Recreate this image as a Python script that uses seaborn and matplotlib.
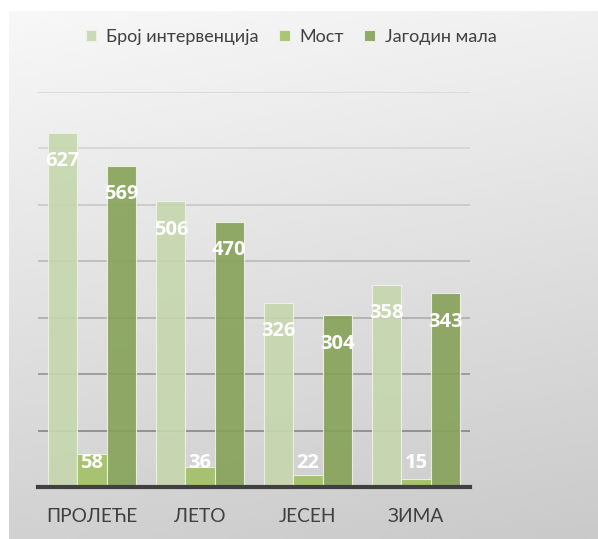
import numpy as np
import pandas as pd
import matplotlib
matplotlib.use('Agg')
import matplotlib.pyplot as plt
import seaborn as sns

# --- Data ---
seasons = ['ПРОЛЕЋЕ', 'ЛЕТО', 'ЈЕСЕН', 'ЗИМА']
series = ['Број интервенција', 'Мост', 'Јагодин мала']
interventions = [627, 506, 326, 358]
most = [58, 36, 22, 15]
jagodin = [569, 470, 304, 343]
colors = ['#c6d7ae', '#a2c065', '#86a258']

df = pd.DataFrame({
    'season': seasons * 3,
    'series': [series[0]] * 4 + [series[1]] * 4 + [series[2]] * 4,
    'value': interventions + most + jagodin,
})

sns.set_style('white')
plt.rcParams['font.family'] = ['Lato', 'DejaVu Sans']

W, H = 598, 539
fig = plt.figure(figsize=(W / 100, H / 100), dpi=100)
fig.patch.set_facecolor('white')

# gradient background panel
bg = fig.add_axes([9 / W, 0, 1 - 9 / W, (H - 11) / H])
bg.set_zorder(-2)
yy = np.linspace(0, 1, 200)[:, None]
xx = np.linspace(0, 1, 200)[None, :]
grad = 0.97 - 0.15 * yy - 0.03 * xx
bg.imshow(grad, cmap='gray', vmin=0, vmax=1, aspect='auto',
          extent=[0, 1, 1, 0], interpolation='bicubic')
bg.axis('off')

ax = fig.add_axes([38 / W, (H - 487) / H, (470 - 38) / W, (487 - 92) / H])
ax.set_facecolor('none')

sns.barplot(data=df, x='season', y='value', hue='series', palette=colors,
            width=0.81, saturation=1, alpha=0.9, edgecolor='#eef3e6',
            linewidth=0.8, ax=ax, legend=True, zorder=3)

ax.set_ylim(0, 700)
ax.set_xlim(-0.5, 3.5)
ax.set_yticks(range(0, 701, 100))
ax.set_yticklabels([])
ax.tick_params(axis='y', length=0)
ax.tick_params(axis='x', length=0, labelsize=13.8, labelcolor='#404040', pad=15)
ax.set_xlabel('')
ax.set_ylabel('')
ax.yaxis.grid(True, linewidth=1.3)
ax.set_axisbelow(True)
grid_cols = ['#909090', '#8c8c8c', '#9a9a9a', '#b0b0b0', '#bdbdbd', '#cacaca', '#d6d6d6', '#dadada']
for gl, c in zip(ax.get_ygridlines(), grid_cols):
    gl.set_color(c)

for s in ['left', 'right', 'top']:
    ax.spines[s].set_visible(False)
ax.spines['bottom'].set_color('#404040')
ax.spines['bottom'].set_linewidth(3)
ax.spines['bottom'].set_zorder(5)

# value labels inside the bar tops
for cont in ax.containers:
    for bar in cont:
        v = bar.get_height()
        ax.text(bar.get_x() + bar.get_width() / 2, max(v - 50, 42), f'{v:.0f}',
                ha='center', va='center', color='white', fontsize=14.5,
                fontweight='bold', family=['Open Sans', 'DejaVu Sans'], zorder=6)

handles, labels = ax.get_legend_handles_labels()
ax.get_legend().remove()
fig.legend(handles, labels, loc='center', bbox_to_anchor=(291 / W, 1 - 37 / H),
           ncol=3, frameon=False, fontsize=13, handlelength=0.6,
           handleheight=0.6, handletextpad=0.55, columnspacing=1.1,
           labelcolor='#404040')

fig.savefig('out.png', dpi=100)
